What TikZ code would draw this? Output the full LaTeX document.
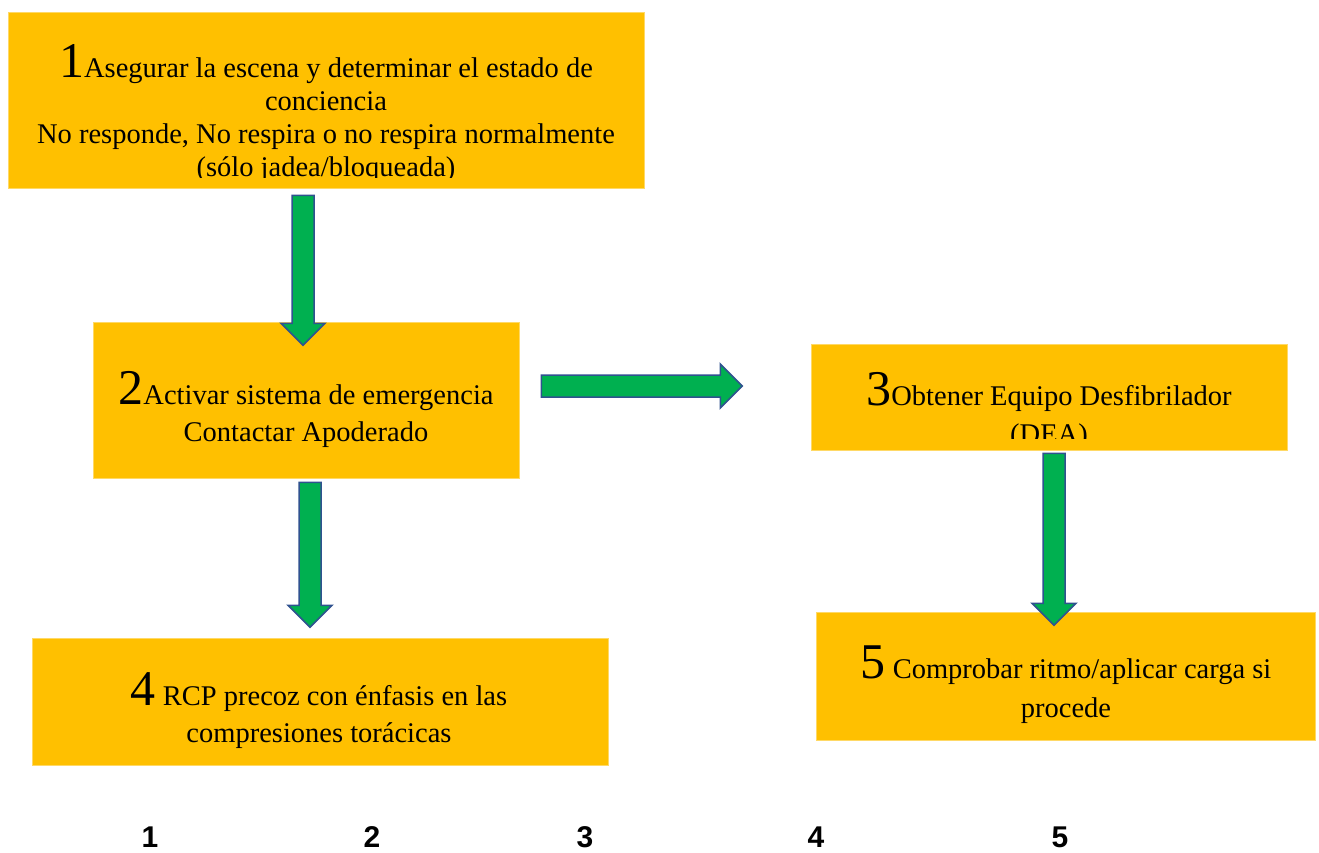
\documentclass[tikz,border=0pt]{standalone}
\usepackage{fontspec}
\setmainfont{Liberation Serif}
\setsansfont{Liberation Sans}

\definecolor{amarillo}{HTML}{FFC000}
\definecolor{verde}{HTML}{00B050}
\definecolor{borde}{HTML}{2F528F}

\newcommand{\cifra}[1]{{\fontsize{50}{50}\selectfont #1}}

\tikzset{
        caja/.style={fill=amarillo, draw=amarillo!60!white, line width=0.5pt, inner sep=0},
        texto/.style={align=center, inner sep=0, font=\fontsize{28.5}{33}\selectfont},
        flecha/.style={fill=verde, draw=borde, line width=1.5pt, line join=miter},
        pie/.style={anchor=base, inner sep=0, font=\sffamily\bfseries\fontsize{30}{30}\selectfont},
        pics/bajada/.style={code={
                \filldraw[flecha] (-11,0) -- (-11,#1-22) -- (-22,#1-22) -- (0,#1)
                        -- (22,#1-22) -- (11,#1-22) -- (11,0) -- cycle;}}
}

\begin{document}
\begin{tikzpicture}[x=1pt, y=-1pt]
        \useasboundingbox (0,0) rectangle (1319,852);

        % cajas
        \node[caja, minimum width=636, minimum height=176] (paso1) at (326,100) {};
        \node[caja, minimum width=426, minimum height=156] (paso2) at (306,400) {};
        \node[caja, minimum width=476, minimum height=106] (paso3) at (1049,397) {};
        \node[caja, minimum width=576, minimum height=127] (paso4) at (320,701.5) {};
        \node[caja, minimum width=499, minimum height=128] (paso5) at (1065.5,676) {};

        % textos
        \begin{scope}
                \clip (paso1.north west) rectangle ([yshift=11pt]paso1.south east);
                \node[texto] (t1) at (326,114) {\cifra{1}Asegurar la escena y determinar el estado de\\conciencia\\No responde, No respira o no respira normalmente\\(sólo jadea/bloqueada)};
        \end{scope}
        \node[texto, font=\fontsize{28.5}{37}\selectfont] (t2) at (306,409.5) {\cifra{2}Activar sistema de emergencia\\Contactar Apoderado};
        \begin{scope}
                \clip (paso3.north west) rectangle ([yshift=12pt]paso3.south east);
                \node[texto, font=\fontsize{28.5}{38}\selectfont] (t3) at (1049,411) {\cifra{3}Obtener Equipo Desfibrilador\\(DEA)};
        \end{scope}
        \node[texto, font=\fontsize{28.5}{37}\selectfont] (t4) at (319,710.5) {\cifra{4} RCP precoz con énfasis en las\\compresiones torácicas};
        \node[texto, font=\fontsize{28.5}{39}\selectfont] (t5) at (1066,684.5) {\cifra{5} Comprobar ritmo/aplicar carga si\\procede};

        % flechas
        \pic at ([xshift=-23pt,yshift=-7pt]paso1.south) {bajada=150};
        \pic at ([xshift=4pt,yshift=-4pt]paso2.south) {bajada=145};
        \pic[rotate=90] at ([xshift=22pt,yshift=14pt]paso2.east) {bajada=201};
        \pic at ([xshift=5pt,yshift=-3pt]paso3.south) {bajada=172};

        % numeros
        \node[pie] (n1) at (150,847) {1};
        \node[pie] (n2) at (372,847) {2};
        \node[pie] (n3) at (585,847) {3};
        \node[pie] (n4) at (816,847) {4};
        \node[pie] (n5) at (1060,847) {5};
\end{tikzpicture}
\end{document}
